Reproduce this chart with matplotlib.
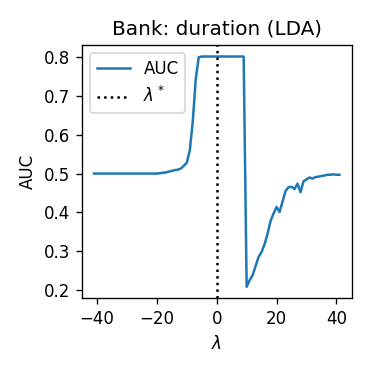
import matplotlib
matplotlib.use("Agg")
import matplotlib.pyplot as plt
import numpy as np


LAMBDAS = list(range(-41, 42))
AUC = [
    0.500, 0.500, 0.500, 0.500, 0.500, 0.500, 0.500, 0.500, 0.500, 0.500,  # -41..-32
    0.500, 0.500, 0.500, 0.500, 0.500, 0.500, 0.500, 0.500, 0.500, 0.500,  # -31..-22
    0.500, 0.500, 0.501, 0.502, 0.503, 0.505, 0.507, 0.509, 0.510, 0.513,  # -21..-12
    0.520, 0.528, 0.560, 0.635, 0.745, 0.800, 0.802, 0.802, 0.802, 0.802,  # -11..-2
    0.802, 0.802, 0.802, 0.802, 0.802, 0.802, 0.802, 0.802, 0.802, 0.802,  # -1..8
    0.802, 0.208, 0.225, 0.238, 0.262, 0.285, 0.298, 0.318, 0.345, 0.378,  # 9..18
    0.397, 0.414, 0.401, 0.428, 0.455, 0.465, 0.466, 0.460, 0.474, 0.452,  # 19..28
    0.480, 0.485, 0.490, 0.487, 0.491, 0.492, 0.494, 0.495, 0.497, 0.497,  # 29..38
    0.498, 0.497, 0.497,  # 39..41
]
LAMBDA_STAR = 0.0

SCALE = 1.2


def main():
    fig, ax = plt.subplots(figsize=(3.7 / SCALE, 3.7 / SCALE), dpi=100 * SCALE)
    ax.plot(LAMBDAS, AUC, color="tab:blue", label="AUC")
    ax.axvline(LAMBDA_STAR, color="k", linestyle=":", label=r"$\lambda^*$")
    ax.set_title("Bank: duration (LDA)")
    ax.set_xlabel(r"$\lambda$")
    ax.set_ylabel("AUC")
    ax.set_xticks([-40, -20, 0, 20, 40])
    ax.set_yticks(np.arange(0.2, 0.81, 0.1))
    ax.legend(loc="upper left")
    fig.subplots_adjust(left=0.221, right=0.9505, top=0.8784, bottom=0.1938)
    fig.savefig("out.png")


if __name__ == "__main__":
    main()
